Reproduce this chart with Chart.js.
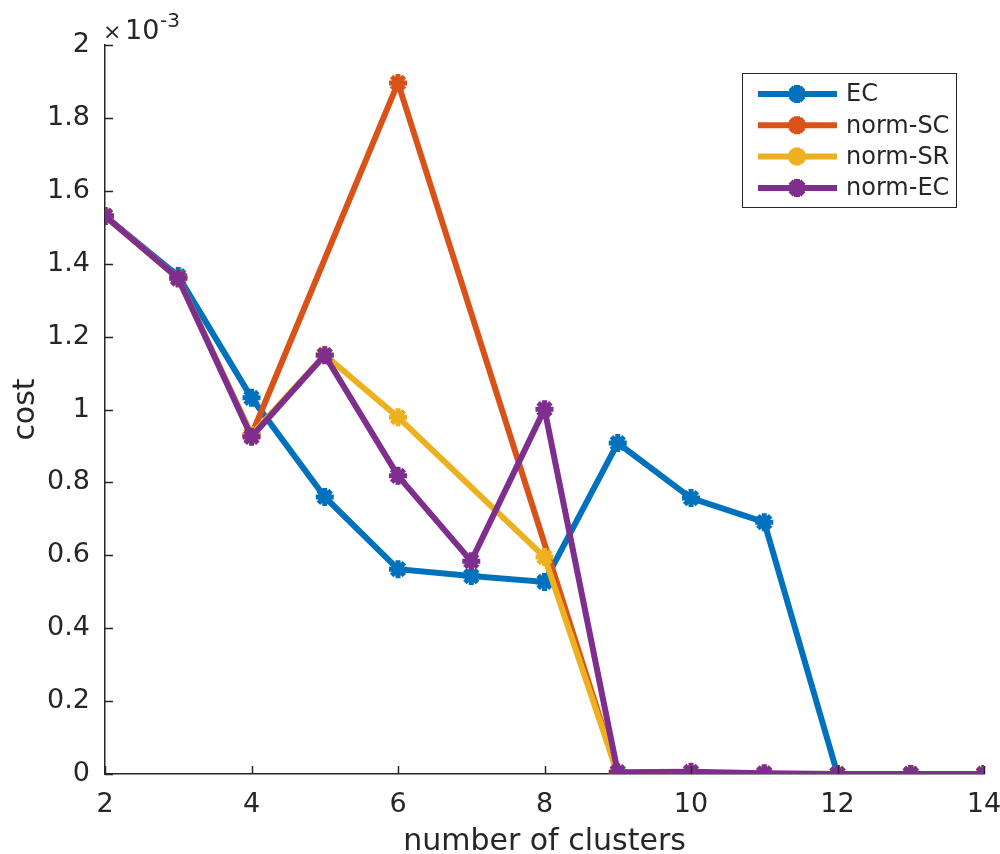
<!DOCTYPE html>
<html>
<head>
<meta charset="utf-8">
<script src="https://cdn.jsdelivr.net/npm/chart.js@4/dist/chart.umd.min.js"></script>
<style>
  html, body { margin: 0; padding: 0; background: #fff; }
  #wrap { width: 1000px; height: 854px; position: relative; }
</style>
</head>
<body>
<div id="wrap"><canvas id="ch"></canvas></div>
<script>
// number of clusters vs cost (values in units of 1e-3, scaled below)
const CLUSTERS = [2, 3, 4, 5, 6, 7, 8, 9, 10, 11, 12, 13, 14];
const EC       = [1.531, 1.366, 1.032, 0.760, 0.562, 0.543, 0.527, 0.908, 0.757, 0.691, 0, 0, 0];
const NORM_SC  = [1.531, 1.360, 0.930, null, 1.896, null, null, 0, 0, 0, 0, 0, 0];
const NORM_SR  = [1.531, 1.360, 0.930, 1.150, 0.979, null, 0.595, 0, 0, 0, 0, 0, 0];
const NORM_EC  = [1.531, 1.360, 0.925, 1.149, 0.818, 0.584, 1.001, 0.005, 0.006, 0.002, 0, 0, 0];
const X_TICKS  = [2, 4, 6, 8, 10, 12, 14];
const SCALE    = 1e-3;

const TXT = '#262626';
const FONT = '"DejaVu Sans", sans-serif';

const SERIES = [
  { label: 'EC',      data: EC,      color: '#0072BD', order: 4 },
  { label: 'norm-SC', data: NORM_SC, color: '#D95319', order: 3 },
  { label: 'norm-SR', data: NORM_SR, color: '#EDB120', order: 2 },
  { label: 'norm-EC', data: NORM_EC, color: '#7E2F8E', order: 1 },
];

const toPts = arr => CLUSTERS.map((c, i) => ({ x: c, y: arr[i] === null ? null : arr[i] * SCALE }));

const MARK = { pointStyle: 'star', radius: 9, borderWidth: 5 };

// ticks pointing inward, exponent label, legend inside the axes
const extras = {
  id: 'extras',
  afterDraw(chart) {
    const ctx = chart.ctx;
    const xs = chart.scales.x, ys = chart.scales.y;
    const a = chart.chartArea;
    ctx.save();
    ctx.strokeStyle = TXT;
    ctx.lineWidth = 1.5;
    ctx.beginPath();
    xs.ticks.forEach(t => {
      const px = Math.round(xs.getPixelForValue(t.value)) + 0.5;
      ctx.moveTo(px, a.bottom); ctx.lineTo(px, a.bottom - 8);
    });
    ys.ticks.forEach(t => {
      const py = Math.round(ys.getPixelForValue(t.value)) + 0.5;
      ctx.moveTo(a.left, py); ctx.lineTo(a.left + 8, py);
    });
    ctx.stroke();

    // ×10^-3
    ctx.fillStyle = TXT;
    ctx.textBaseline = 'alphabetic';
    ctx.textAlign = 'left';
    ctx.font = '22px ' + FONT;
    ctx.fillText('\u00d7', a.left - 2, 39);
    ctx.font = '27px ' + FONT;
    ctx.fillText('10', a.left + 20, 39);
    ctx.font = '20px ' + FONT;
    ctx.fillText('-3', a.left + 55, 27);

    // legend
    const bx = 742, by = 73, bw = 214, bh = 134;
    ctx.fillStyle = '#fff';
    ctx.fillRect(bx, by, bw, bh);
    ctx.strokeStyle = TXT;
    ctx.lineWidth = 1;
    ctx.strokeRect(bx + 0.5, by + 0.5, bw, bh);
    chart.data.datasets.forEach((ds, i) => {
      const y = 94 + i * 31.3;
      ctx.strokeStyle = ds.borderColor;
      ctx.fillStyle = ds.borderColor;
      ctx.lineWidth = 6;
      ctx.beginPath();
      ctx.moveTo(758, y); ctx.lineTo(837, y);
      ctx.stroke();
      Chart.helpers.drawPoint(ctx, { pointStyle: MARK.pointStyle, radius: MARK.radius, borderWidth: MARK.borderWidth, rotation: 0 }, 797, y);
      ctx.fillStyle = TXT;
      ctx.font = '24px ' + FONT;
      ctx.textBaseline = 'middle';
      ctx.fillText(ds.label, 846, y + 1);
    });
    ctx.restore();
  }
};

new Chart(document.getElementById('ch'), {
  type: 'line',
  data: {
    datasets: SERIES.map(s => ({
      label: s.label,
      data: toPts(s.data),
      borderColor: s.color,
      backgroundColor: s.color,
      borderWidth: 6,
      pointStyle: MARK.pointStyle,
      pointRadius: MARK.radius,
      pointBorderWidth: MARK.borderWidth,
      pointBackgroundColor: s.color,
      pointBorderColor: s.color,
      spanGaps: true,
      tension: 0,
      order: s.order,
    })),
  },
  options: {
    responsive: true,
    maintainAspectRatio: false,
    animation: false,
    layout: { padding: { left: 0, right: 16, top: 45, bottom: 0 } },
    plugins: { legend: { display: false }, tooltip: { enabled: false } },
    scales: {
      x: {
        type: 'linear',
        min: 2, max: 14,
        afterBuildTicks: sc => { sc.ticks = X_TICKS.map(v => ({ value: v })); },
        afterFit: sc => { sc.height = 80; sc.paddingRight = 0; sc.paddingLeft = 0; },
        grid: { display: false, drawTicks: false },
        border: { display: true, color: TXT, width: 1.5 },
        ticks: { color: TXT, font: { family: FONT, size: 27 }, padding: 15, maxRotation: 0 },
        title: { display: true, text: 'number of clusters', color: TXT, font: { family: FONT, size: 30 }, padding: { top: 0, bottom: -6 } },
      },
      y: {
        min: 0, max: 2e-3,
        afterFit: sc => { sc.width = 105; },
        grid: { display: false, drawTicks: false },
        border: { display: true, color: TXT, width: 1.5 },
        ticks: {
          stepSize: 0.2e-3,
          color: TXT,
          font: { family: FONT, size: 27 },
          padding: 15,
          callback: v => String(Math.round(v / SCALE * 10) / 10),
        },
        title: { display: true, text: 'cost', color: TXT, font: { family: FONT, size: 30 }, padding: { top: 8, bottom: 0 } },
      },
    },
  },
  plugins: [extras],
});
</script>
</body>
</html>
